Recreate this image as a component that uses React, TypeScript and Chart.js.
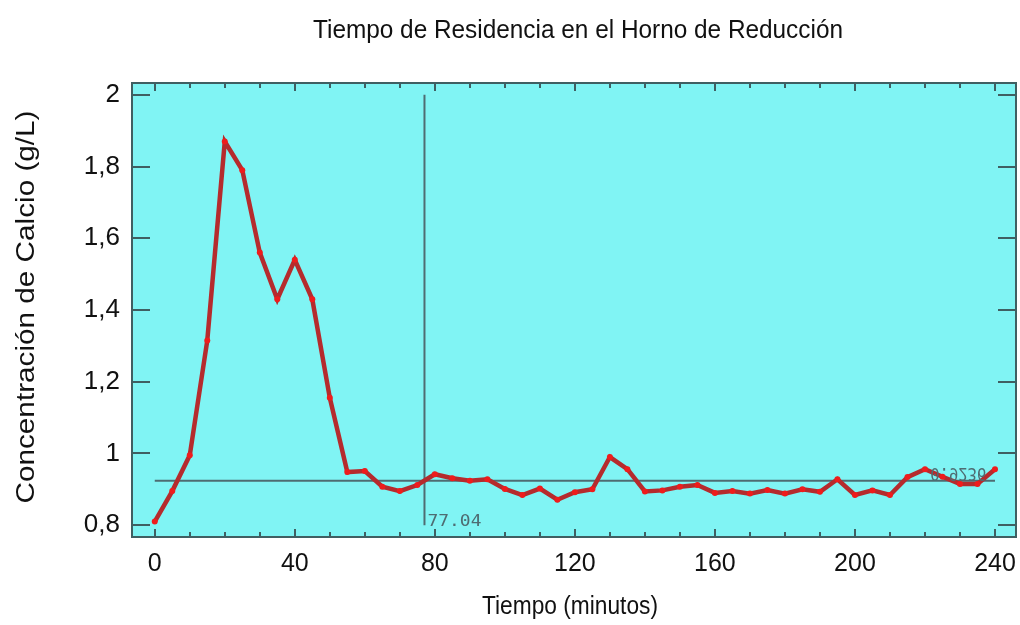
import React, { useEffect, useRef } from 'react';
import { Chart, registerables } from 'chart.js';

Chart.register(...registerables);

// ---- data ----
const times = [
  0, 5, 10, 15, 20, 25, 30, 35, 40, 45, 50, 55, 60, 65, 70, 75, 80, 85, 90, 95,
  100, 105, 110, 115, 120, 125, 130, 135, 140, 145, 150, 155, 160, 165, 170, 175,
  180, 185, 190, 195, 200, 205, 210, 215, 220, 225, 230, 235, 240,
];
const calcium = [
  0.81, 0.895, 0.995, 1.315, 1.87, 1.79, 1.56, 1.43, 1.54, 1.43, 1.155, 0.948,
  0.951, 0.907, 0.895, 0.912, 0.942, 0.931, 0.924, 0.928, 0.901, 0.884, 0.902,
  0.871, 0.892, 0.9, 0.99, 0.956, 0.894, 0.897, 0.907, 0.912, 0.89, 0.895, 0.888,
  0.898, 0.888, 0.9, 0.893, 0.928, 0.884, 0.897, 0.884, 0.934, 0.956, 0.935,
  0.915, 0.915, 0.956,
];
const meanLevel = 0.9236;
const meanLineSpan = [0, 240];
const markTime = 77.04;
const markLineSpan = [0.8, 2.0];
const xTickValues = [0, 40, 80, 120, 160, 200, 240];
const xMinorStep = 10;
const yTickValues = [0.8, 1.0, 1.2, 1.4, 1.6, 1.8, 2.0];
const xRange = [-6.5, 246];
const yRange = [0.767, 2.033];
const titleText = 'Tiempo de Residencia en el Horno de Reducción';
const xTitleText = 'Tiempo (minutos)';
const yTitleText = 'Concentración de Calcio (g/L)';
const markLabel = '77.04';
const meanLabel = '0.9236';

const FONT = '"Liberation Sans", Arial, sans-serif';
const FRAME = '#3f5f62';
const REF = '#4e6c72';

function fitText(
  ctx: CanvasRenderingContext2D,
  text: string,
  cx: number,
  cy: number,
  size: number,
  width: number,
  rot = 0,
  flipY = false,
  family = FONT,
  color = '#111'
) {
  ctx.save();
  ctx.font = `${size}px ${family}`;
  const m = ctx.measureText(text).width;
  ctx.translate(cx, cy);
  ctx.rotate(rot);
  ctx.scale(width / m, flipY ? -1 : 1);
  ctx.textAlign = 'center';
  ctx.textBaseline = 'middle';
  ctx.fillStyle = color;
  ctx.fillText(text, 0, 0);
  ctx.restore();
}

const decor = {
  id: 'decor',
  beforeDraw(chart: any) {
    const { ctx, chartArea: a } = chart;
    ctx.save();
    ctx.fillStyle = '#80f4f4';
    ctx.fillRect(a.left, a.top, a.right - a.left, a.bottom - a.top);
    ctx.restore();
  },
  afterDraw(chart: any) {
    const { ctx, chartArea: a, scales } = chart;
    const xs = scales.x;
    const ys = scales.y;
    ctx.save();
    ctx.strokeStyle = FRAME;
    ctx.lineWidth = 2;
    ctx.strokeRect(a.left, a.top, a.right - a.left, a.bottom - a.top);
    ctx.beginPath();
    for (let v = xTickValues[0]; v <= xTickValues[xTickValues.length - 1]; v += xMinorStep) {
      const px = Math.round(xs.getPixelForValue(v));
      const len = v % 40 === 0 ? 8 : 5;
      ctx.moveTo(px, a.bottom);
      ctx.lineTo(px, a.bottom - len);
      ctx.moveTo(px, a.top);
      ctx.lineTo(px, a.top + len);
    }
    for (const v of yTickValues) {
      const py = Math.round(ys.getPixelForValue(v));
      ctx.moveTo(a.left, py);
      ctx.lineTo(a.left + 18, py);
      ctx.moveTo(a.right, py);
      ctx.lineTo(a.right - 18, py);
    }
    ctx.stroke();
    ctx.restore();

    // annotation labels
    const mx = xs.getPixelForValue(markTime);
    const my = ys.getPixelForValue(markLineSpan[0]);
    fitText(ctx, markLabel, mx + 30, my - 3, 15, 54, 0, false, '"DejaVu Sans Mono", monospace', REF);
    const lx = xs.getPixelForValue(229.5);
    const ly = ys.getPixelForValue(meanLevel);
    fitText(ctx, meanLabel, lx, ly - 8, 17, 56, 0, true, '"DejaVu Sans Mono", monospace', REF);

    // titles
    fitText(ctx, titleText, 578, 31, 26, 530);
    fitText(ctx, xTitleText, 570, 607, 26, 176);
    fitText(ctx, yTitleText, 27, 307, 26, 393, -Math.PI / 2);
  },
};

export default function App() {
  const ref = useRef<HTMLCanvasElement>(null);
  useEffect(() => {
    const fmt = (v: number) => String(Math.round(v * 10) / 10).replace('.', ',');
    const chart = new Chart(ref.current!, {
      type: 'line',
      data: {
        datasets: [
          {
            data: times.map((t, i) => ({ x: t, y: calcium[i] })),
            borderColor: '#b52b2d',
            borderWidth: 4.5,
            pointRadius: 3,
            pointBackgroundColor: '#ee1c1c',
            pointBorderWidth: 0,
            tension: 0,
            order: 0,
          },
          {
            data: meanLineSpan.map((t) => ({ x: t, y: meanLevel })),
            borderColor: REF,
            borderWidth: 2,
            pointRadius: 0,
            order: 1,
          },
          {
            data: markLineSpan.map((v) => ({ x: markTime, y: v })),
            borderColor: REF,
            borderWidth: 2,
            pointRadius: 0,
            order: 1,
          },
        ],
      },
      options: {
        responsive: false,
        animation: false,
        devicePixelRatio: 1,
        layout: { padding: { top: 83, right: 1, left: 0, bottom: 0 } },
        plugins: { legend: { display: false }, title: { display: false }, tooltip: { enabled: false } },
        scales: {
          x: {
            type: 'linear',
            min: xRange[0],
            max: xRange[1],
            afterBuildTicks: (s: any) => {
              s.ticks = xTickValues.map((v) => ({ value: v }));
            },
            afterFit: (s: any) => {
              s.height = 88;
              s.paddingLeft = 0;
              s.paddingRight = 0;
            },
            grid: { display: false, drawTicks: false },
            border: { display: false },
            ticks: {
              font: { family: FONT, size: 25 },
              color: '#111',
              padding: 12,
              maxRotation: 0,
              autoSkip: false,
            },
          },
          y: {
            type: 'linear',
            min: yRange[0],
            max: yRange[1],
            afterBuildTicks: (s: any) => {
              s.ticks = yTickValues.map((v) => ({ value: v }));
            },
            afterFit: (s: any) => {
              s.width = 132;
              s.paddingTop = 0;
              s.paddingBottom = 0;
            },
            grid: { display: false, drawTicks: false },
            border: { display: false },
            ticks: {
              font: { family: FONT, size: 26 },
              color: '#111',
              padding: 12,
              autoSkip: false,
              callback: (v: any) => fmt(Number(v)),
            },
          },
        },
      },
      plugins: [decor],
    } as any);
    return () => chart.destroy();
  }, []);
  return (
    <div style={{ position: 'absolute', left: 0, top: 0, width: 1020, height: 625 }}>
      <canvas ref={ref} width={1020} height={625} style={{ width: 1020, height: 625 }} />
    </div>
  );
}
